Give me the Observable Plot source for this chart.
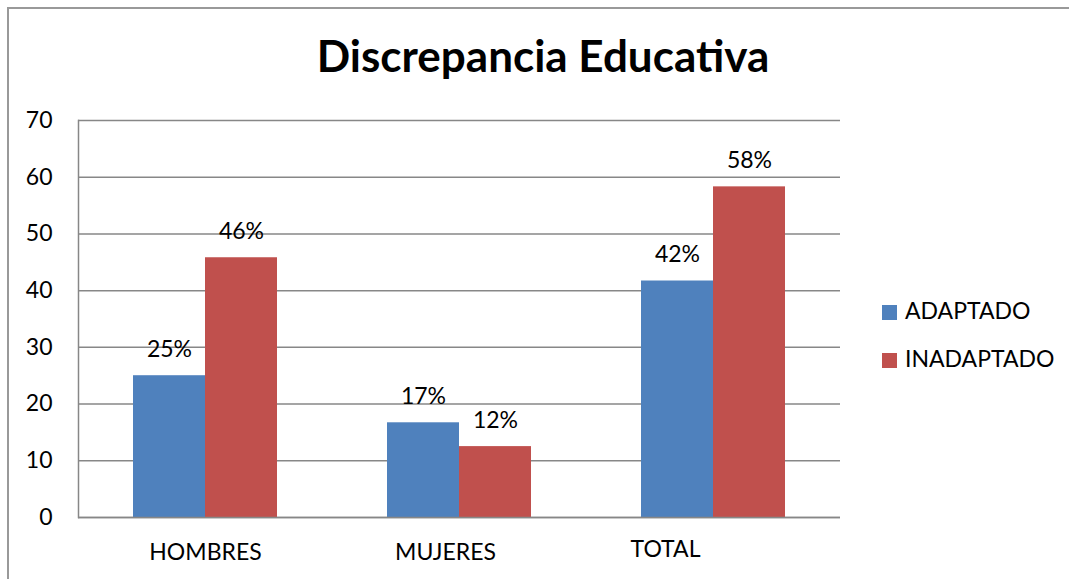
<!DOCTYPE html>
<html>
<head>
<meta charset="utf-8">
<script src="https://cdn.jsdelivr.net/npm/d3@7"></script>
<script src="https://cdn.jsdelivr.net/npm/@observablehq/plot@0.6"></script>
<style>
  html, body { margin: 0; padding: 0; background: #fff; }
  #wrap { position: relative; width: 1069px; height: 579px; overflow: hidden; font-family: Lato, sans-serif; }
  #border { position: absolute; left: 7px; top: 7px; width: 1100px; height: 600px; border-left: 2px solid #999; border-top: 2px solid #999; }
  #title { position: absolute; left: 0; top: 29px; width: 1086px; text-align: center; font-weight: bold; font-size: 44px; line-height: 52px; color: #000; }
  #chart { position: absolute; left: 0; top: 0; }
  .sw { position: absolute; left: 882px; width: 15px; height: 15px; }
  .lt { position: absolute; left: 905px; font-size: 23px; line-height: 23px; color: #000; white-space: nowrap; }
</style>
</head>
<body>
<div id="wrap">
  <div id="border"></div>
  <div id="title"></div>
  <div id="chart"></div>
  <div id="legend"></div>
</div>
<script>
const chartTitle = "Discrepancia Educativa";
const categories = ["HOMBRES", "MUJERES", "TOTAL"];
const series = ["ADAPTADO", "INADAPTADO"];
const adaptado = [25, 16.7, 41.7];
const inadaptado = [45.8, 12.5, 58.3];
const adaptadoLabels = ["25%", "17%", "42%"];
const inadaptadoLabels = ["46%", "12%", "58%"];
const colors = ["#4F81BD", "#C0504D"];
const yTicks = [0, 10, 20, 30, 40, 50, 60, 70];

const data = categories.flatMap((c, i) => [
  {cat: c, serie: series[0], value: adaptado[i], label: adaptadoLabels[i]},
  {cat: c, serie: series[1], value: inadaptado[i], label: inadaptadoLabels[i]}
]);

document.getElementById("title").textContent = chartTitle;

// category labels drawn per facet (bottom of each facet frame)
const catLabel = (c, opts) => Plot.text([c], {fx: d => d, text: d => d, frameAnchor: "bottom", lineAnchor: "top", dy: 26, fontSize: 23, fill: "#000", ...opts});

const chart = Plot.plot({
  width: 1069,
  height: 579,
  marginLeft: 78,
  marginRight: 229,
  marginTop: 120,
  marginBottom: 62,
  style: {fontFamily: "Lato, sans-serif", fontSize: "23px", color: "#000", background: "transparent", overflow: "visible"},
  fx: {domain: categories, padding: 0, label: null, axis: null},
  x: {domain: series, paddingInner: 0, paddingOuter: 0.75, axis: null},
  y: {domain: [0, 70], ticks: yTicks, label: null},
  color: {domain: series, range: colors},
  marks: [
    Plot.gridY(yTicks, {stroke: "#878787", strokeOpacity: 1, strokeWidth: 1.5}),
    Plot.axisY(yTicks, {tickSize: 0, tickPadding: 26, label: null, fontSize: 23}),
    catLabel(categories[0], {}),
    catLabel(categories[1], {dx: -14}),
    catLabel(categories[2], {dx: -48, dy: 23}),
    Plot.barY(data, {fx: "cat", x: "serie", y: "value", fill: "serie"}),
    Plot.text(data, {fx: "cat", x: "serie", y: "value", text: "label", lineAnchor: "bottom", dy: -19, fontSize: 23, fill: "#000"}),
    Plot.ruleY([0], {stroke: "#878787", strokeWidth: 1.5}),
    Plot.frame({anchor: "left", facetAnchor: "left", stroke: "#878787", strokeWidth: 1.5})
  ]
});
document.getElementById("chart").appendChild(chart);

const legend = document.getElementById("legend");
series.forEach((s, i) => {
  const sw = document.createElement("div");
  sw.className = "sw";
  sw.style.top = (305 + i * 48) + "px";
  sw.style.background = colors[i];
  legend.appendChild(sw);
  const t = document.createElement("div");
  t.className = "lt";
  t.style.top = (299 + i * 48) + "px";
  t.textContent = s;
  legend.appendChild(t);
});
</script>
</body>
</html>
